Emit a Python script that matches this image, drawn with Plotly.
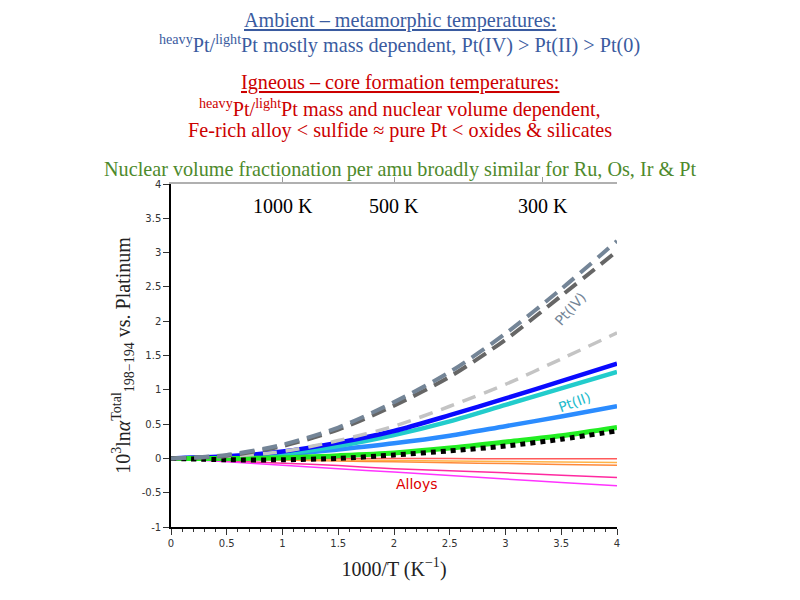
"""Pt isotope fractionation vs 1000/T, rebuilt with Plotly."""

import plotly.graph_objects as go

SERIF = "Liberation Serif, Times New Roman, serif"
SANS = "DejaVu Sans, sans-serif"

# 1000/T (K^-1)
INV_T = [0, 0.5, 1, 1.5, 2, 2.5, 3, 3.5, 4]

# 10^3 ln alpha (198-194) vs. platinum metal
PT4_A = [0, 0.05, 0.2, 0.45, 0.82, 1.26, 1.82, 2.47, 3.17]
PT4_B = [0, 0.04, 0.18, 0.42, 0.77, 1.19, 1.73, 2.37, 3.02]
OXIDE_GRAY = [0, 0.03, 0.1, 0.26, 0.47, 0.76, 1.08, 1.45, 1.83]
BLUE = [0, 0.03, 0.1, 0.23, 0.4, 0.63, 0.875, 1.125, 1.38]
CYAN = [0, 0.02, 0.07, 0.18, 0.34, 0.54, 0.78, 1.02, 1.26]
PT2 = [0, 0.02, 0.05, 0.13, 0.22, 0.33, 0.47, 0.61, 0.76]
GREEN = [0, 0.0, 0.01, 0.04, 0.08, 0.15, 0.24, 0.33, 0.45]
SULFIDE = [0, -0.02, -0.02, 0.0, 0.05, 0.11, 0.18, 0.28, 0.4]
ALLOY_RED = [0, 0, -0.002, -0.002, -0.003, -0.003, -0.004, -0.004, -0.005]
ALLOY_ORANGE = [0, -0.008, -0.015, -0.023, -0.03, -0.038, -0.045, -0.053, -0.06]
ALLOY_DARKORANGE = [0, -0.013, -0.025, -0.038, -0.05, -0.063, -0.075, -0.088, -0.1]
ALLOY_PINK = [0, -0.035, -0.07, -0.105, -0.15, -0.18, -0.21, -0.245, -0.28]
ALLOY_MAGENTA = [0, -0.05, -0.1, -0.15, -0.2, -0.25, -0.3, -0.35, -0.4]

X_TICKS = [0, 0.5, 1, 1.5, 2, 2.5, 3, 3.5, 4]
X_TICK_TEXT = ["0", "0.5", "1", "1.5", "2", "2.5", "3", "3.5", "4"]
Y_TICKS = [-1, -0.5, 0, 0.5, 1, 1.5, 2, 2.5, 3, 3.5, 4]
Y_TICK_TEXT = ["-1", "-0.5", "0", "0.5", "1", "1.5", "2", "2.5", "3", "3.5", "4"]
TOP_TICKS = [1, 2, 3.3333]
TOP_TICK_TEXT = ["1000 K", "500 K", "300 K"]

# (values, colour, width, dash) in drawing order
SERIES = [
    (ALLOY_MAGENTA, "#ff33ff", 1.5, "solid"),
    (ALLOY_PINK, "#ff2aa0", 1.5, "solid"),
    (ALLOY_DARKORANGE, "#ff8a3a", 1.5, "solid"),
    (ALLOY_ORANGE, "#ffb347", 1.5, "solid"),
    (ALLOY_RED, "#ff5a5a", 1.5, "solid"),
    (PT2, "#2b8cff", 4.5, "solid"),
    (CYAN, "#22cccc", 4.5, "solid"),
    (BLUE, "#0a0aff", 4.5, "solid"),
    (GREEN, "#22ee22", 5, "solid"),
    (SULFIDE, "#000000", 5, "dot"),
    (OXIDE_GRAY, "#c4c4c4", 3.5, "14px,9px"),
    (PT4_B, "#666666", 4, "15px,8px"),
    (PT4_A, "#748597", 4, "15px,8px"),
]

fig = go.Figure()
for values, color, width, dash in SERIES:
    fig.add_trace(
        go.Scatter(
            x=INV_T,
            y=values,
            mode="lines",
            line=dict(color=color, width=width, dash=dash, shape="spline", smoothing=0.8),
            showlegend=False,
            hoverinfo="skip",
        )
    )

# empty trace so the top temperature axis gets drawn
fig.add_trace(go.Scatter(x=[], y=[], xaxis="x2", showlegend=False))

headings = [
    ("<u>Ambient – metamorphic temperatures:</u>", "#3a5ba0", 1.478),
    ("<sup>heavy</sup>Pt/<sup>light</sup>Pt mostly mass dependent, Pt(IV) > Pt(II) > Pt(0)", "#3a5ba0", 1.407),
    ("<u>Igneous – core formation temperatures:</u>", "#cc0000", 1.297),
    ("<sup>heavy</sup>Pt/<sup>light</sup>Pt mass and nuclear volume dependent,", "#cc0000", 1.222),
    ("Fe-rich alloy < sulfide ≈ pure Pt < oxides & silicates", "#cc0000", 1.155),
    ("Nuclear volume fractionation per amu broadly similar for Ru, Os, Ir & Pt", "#4e8a2c", 1.043),
]
for text, color, ypos in headings:
    fig.add_annotation(
        text=text, xref="paper", yref="paper", x=0.513, y=ypos,
        xanchor="center", yanchor="middle", showarrow=False,
        font=dict(family=SERIF, size=20.2, color=color),
    )

# temperature labels under the top axis
for pos, text in zip(TOP_TICKS, TOP_TICK_TEXT):
    fig.add_annotation(
        text=text, x=pos, xref="x", yref="paper", y=0.937,
        xanchor="center", yanchor="middle", showarrow=False,
        font=dict(family=SERIF, size=20, color="black"),
    )

labels = [
    ("Pt(IV)", 3.58, 2.18, -48, "#748597"),
    ("Pt(II)", 3.62, 0.82, -20, "#22bbcc"),
    ("Alloys", 2.21, -0.37, 0, "#dd0000"),
]
for text, x, y, angle, color in labels:
    fig.add_annotation(
        text=text, x=x, y=y, textangle=angle, showarrow=False,
        font=dict(family=SANS, size=14, color=color),
    )

# the page body adds an 8px offset, so margins are shifted to compensate
fig.update_layout(
    width=800,
    height=600,
    paper_bgcolor="white",
    plot_bgcolor="white",
    margin=dict(l=163, r=191, t=176, b=81, autoexpand=False),
    xaxis=dict(
        range=[0, 4],
        automargin=False,
        tickvals=X_TICKS,
        ticktext=X_TICK_TEXT,
        showgrid=False,
        zeroline=False,
        showline=True,
        linecolor="black",
        linewidth=1.5,
        ticks="outside",
        ticklen=6,
        tickcolor="#333333",
        minor=dict(dtick=0.1, ticks="outside", ticklen=3, tickcolor="#333333", showgrid=False),
        tickfont=dict(family=SANS, size=10, color="#333333"),
        title=dict(text="1000/T (K<sup>−1</sup>)", font=dict(family=SERIF, size=20, color="#222222"), standoff=14),
    ),
    xaxis2=dict(
        overlaying="x",
        side="top",
        range=[0, 4],
        automargin=False,
        tickvals=TOP_TICKS,
        showticklabels=False,
        showgrid=False,
        zeroline=False,
        showline=True,
        linecolor="#b0b0b0",
        linewidth=2,
        ticks="outside",
        ticklen=5,
        tickcolor="#999999",
    ),
    yaxis=dict(
        range=[-1, 4],
        automargin=False,
        tickvals=Y_TICKS,
        ticktext=Y_TICK_TEXT,
        showgrid=False,
        zeroline=False,
        showline=True,
        linecolor="black",
        linewidth=1.5,
        ticks="outside",
        ticklen=6,
        tickcolor="#333333",
        tickfont=dict(family=SANS, size=10, color="#333333"),
        title=dict(
            text="10<sup>3</sup>ln<i>α</i><sup>Total</sup><sub>198−194</sub> vs. Platinum",
            font=dict(family=SERIF, size=20, color="#222222"),
            standoff=6,
        ),
    ),
)

fig.write_html("out.html")
